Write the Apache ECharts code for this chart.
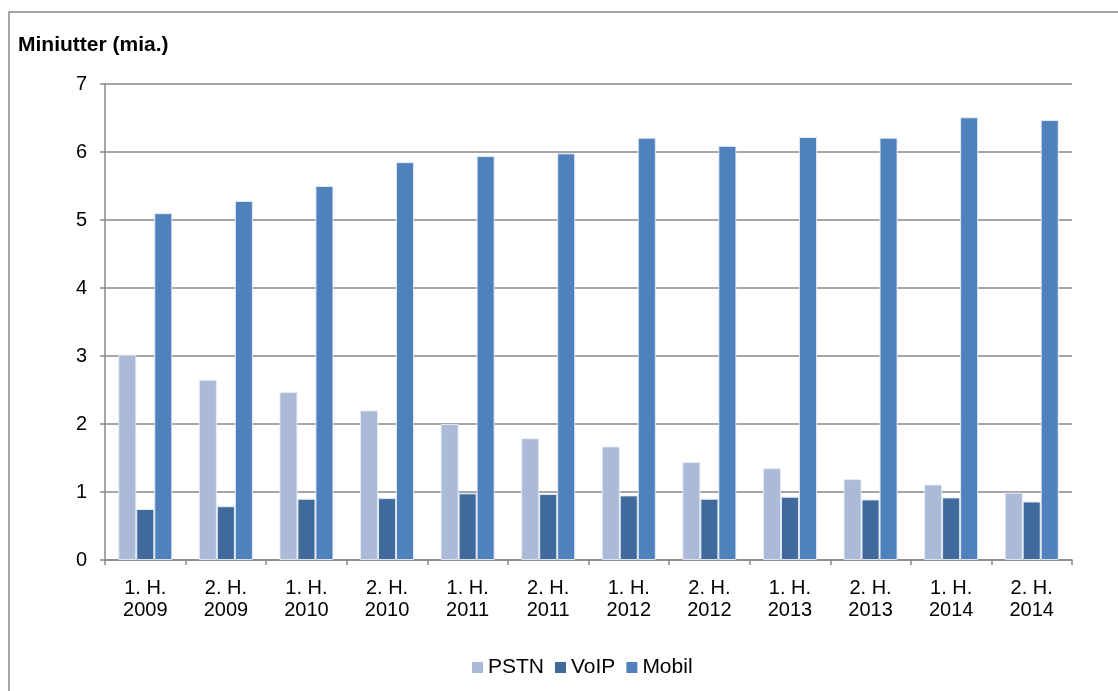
<!DOCTYPE html>
<html>
<head>
<meta charset="utf-8">
<script src="https://cdn.jsdelivr.net/npm/echarts@6/dist/echarts.min.js"></script>
<style>
  html, body { margin: 0; padding: 0; background: #fff; }
  #chart { width: 1118px; height: 691px; }
</style>
</head>
<body>
<div id="chart"></div>
<script>
// Half-year periods
const periods = ['1. H.\n2009', '2. H.\n2009', '1. H.\n2010', '2. H.\n2010', '1. H.\n2011', '2. H.\n2011',
                 '1. H.\n2012', '2. H.\n2012', '1. H.\n2013', '2. H.\n2013', '1. H.\n2014', '2. H.\n2014'];

// Call minutes in billions
const pstn  = [3.02, 2.65, 2.47, 2.20, 2.00, 1.79, 1.67, 1.44, 1.35, 1.19, 1.11, 0.99];
const voip  = [0.75, 0.79, 0.90, 0.91, 0.98, 0.97, 0.95, 0.90, 0.93, 0.89, 0.92, 0.86];
const mobil = [5.10, 5.28, 5.50, 5.85, 5.94, 5.98, 6.21, 6.09, 6.22, 6.21, 6.51, 6.47];

const yTicks = [0, 1, 2, 3, 4, 5, 6, 7];

const FONT = '"Liberation Sans", Arial, sans-serif';
const GRAY = '#888888';

const chart = echarts.init(document.getElementById('chart'), null, { renderer: 'canvas' });

function barSeries(name, data, color) {
  return {
    name: name,
    type: 'bar',
    data: data,
    barWidth: 18,
    barGap: '0%',
    itemStyle: { color: color, borderColor: 'rgba(230,236,246,0.9)', borderWidth: 1 }
  };
}

chart.setOption({
  animation: false,
  backgroundColor: '#fff',
  textStyle: { fontFamily: FONT },
  graphic: [{
    type: 'rect',
    shape: { x: 9, y: 12, width: 1300, height: 900 },
    style: { fill: 'none', stroke: GRAY, lineWidth: 1.5 },
    silent: true
  }],
  title: {
    text: 'Miniutter (mia.)',
    left: 18,
    top: 35,
    padding: 0,
    textStyle: { fontFamily: FONT, fontSize: 21, fontWeight: 'bold', color: '#000' }
  },
  legend: {
    data: ['PSTN', 'VoIP', 'Mobil'],
    left: 472,
    top: 657,
    padding: 0,
    itemWidth: 11,
    itemHeight: 11,
    itemGap: 11,
    icon: 'rect',
    itemStyle: { borderWidth: 0 },
    textStyle: { fontFamily: FONT, fontSize: 21, color: '#000' }
  },
  grid: { left: 105, right: 46, top: 84, bottom: 131, containLabel: false },
  xAxis: {
    type: 'category',
    data: periods,
    boundaryGap: true,
    axisLine: { lineStyle: { color: GRAY, width: 1.5 } },
    axisTick: { show: true, length: 5, interval: 0, lineStyle: { color: GRAY, width: 1.5 } },
    axisLabel: { interval: 0, fontFamily: FONT, fontSize: 20, color: '#000', lineHeight: 22, margin: 17 }
  },
  yAxis: {
    type: 'value',
    min: yTicks[0],
    max: yTicks[yTicks.length - 1],
    interval: 1,
    axisLine: { show: true, lineStyle: { color: GRAY, width: 1.5 } },
    axisTick: { show: true, length: 5, lineStyle: { color: GRAY, width: 1.5 } },
    axisLabel: { fontFamily: FONT, fontSize: 20, color: '#000', margin: 18 },
    splitLine: { show: true, lineStyle: { color: GRAY, width: 1.5 } }
  },
  series: [
    barSeries('PSTN', pstn, '#AABAD7'),
    barSeries('VoIP', voip, '#3F6A9B'),
    barSeries('Mobil', mobil, '#4F81BD')
  ]
});
</script>
</body>
</html>
